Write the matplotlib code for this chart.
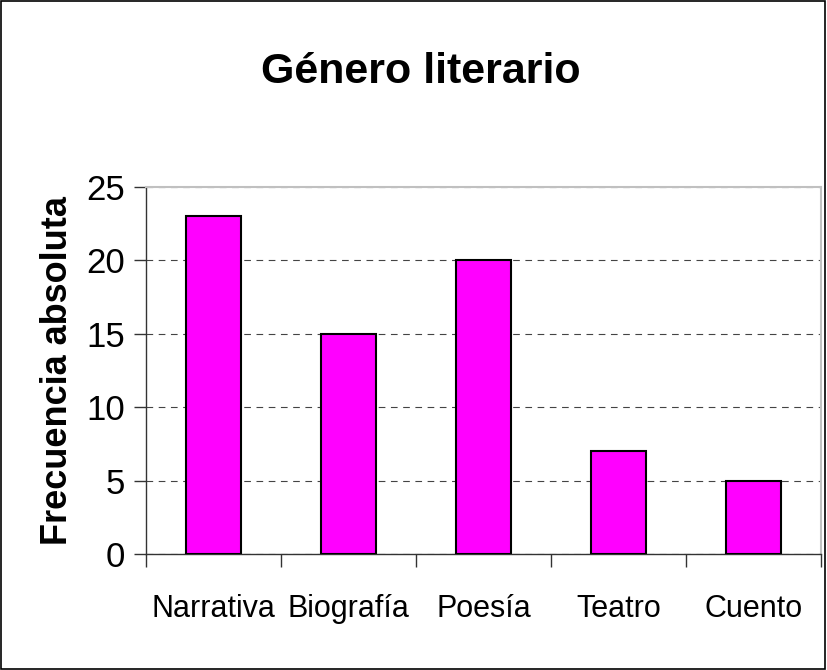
import matplotlib
matplotlib.use("Agg")
import matplotlib.pyplot as plt
from matplotlib import font_manager as fm
from matplotlib.patches import Rectangle

categories = ["Narrativa", "Biografía", "Poesía", "Teatro", "Cuento"]
values = [23, 15, 20, 7, 5]
yticks = [0, 5, 10, 15, 20, 25]

names = {f.name for f in fm.fontManager.ttflist}
narrow = "Liberation Sans Narrow" if "Liberation Sans Narrow" in names else "Liberation Sans"

fig = plt.figure(figsize=(8.27, 6.70), dpi=100)
ax = fig.add_axes([146/827, 1-554/670, (821-146)/827, (554-187)/670])

x = list(range(len(categories)))
ax.bar(x, values, width=0.41, color="#FF00FF", edgecolor="black", linewidth=1.5, zorder=3)
ax.set_xlim(-0.5, len(categories)-0.5)
ax.set_ylim(0, 25)
ax.set_yticks(yticks)
ax.set_yticklabels([str(v) for v in yticks], fontsize=25, family=narrow)
ax.yaxis.grid(True, linestyle=(0, (6, 5)), color="#444444", linewidth=0.8, zorder=0)

ax.set_xticks([i + 0.5 for i in range(-1, len(categories))])
ax.set_xticklabels([])
ax.tick_params(axis="x", length=9, width=1, direction="out", color="#333333")
ax.tick_params(axis="y", length=9, width=1, direction="out", color="#333333", pad=6)
for i, c in enumerate(categories):
    ax.text(i, -0.11, c, transform=ax.get_xaxis_transform(), ha="center", va="top",
            fontsize=22, family=narrow)

for s in ["left", "bottom"]:
    ax.spines[s].set_color("#333333")
    ax.spines[s].set_linewidth(1)
for s in ["top", "right"]:
    ax.spines[s].set_color("#c0c0c0")
    ax.spines[s].set_linewidth(1.5)

ax.set_ylabel("Frecuencia absoluta", fontsize=26, fontweight="bold", family="Liberation Sans", labelpad=8)
fig.text(421/827, 1-72/670, "Género literario", ha="center", va="center",
         fontsize=31, fontweight="bold", family=narrow)

fig.patches.append(Rectangle((0.001, 0.001), 0.997, 0.997, transform=fig.transFigure,
                             fill=False, edgecolor="black", linewidth=1.2))
fig.savefig("out.png", dpi=100)
